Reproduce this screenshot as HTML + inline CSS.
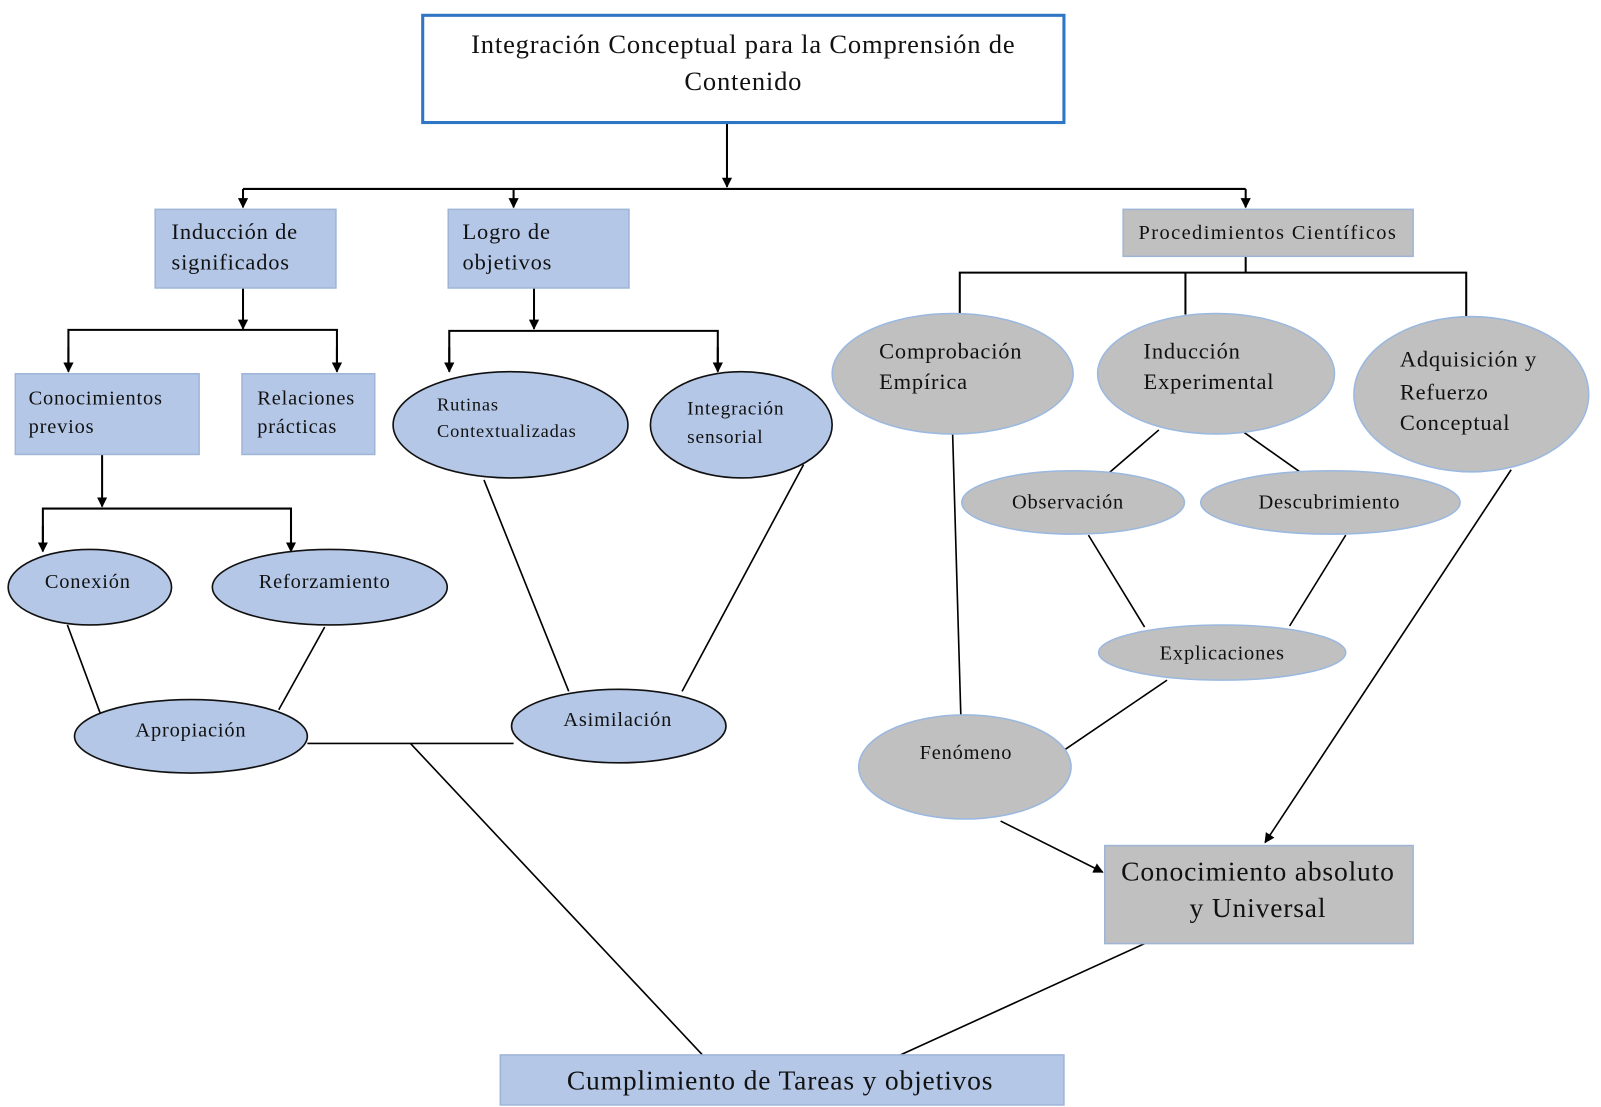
<!DOCTYPE html>
<html><head><meta charset="utf-8"><style>html,body{margin:0;padding:0;background:#fff}svg{display:block}text{letter-spacing:0.8px}</style></head><body>
<svg width="1601" height="1107" viewBox="0 0 1568 1084" preserveAspectRatio="none" xmlns="http://www.w3.org/2000/svg" font-family="Liberation Serif, serif" fill="#111">
<defs><marker id="a" markerWidth="10" markerHeight="10" refX="9" refY="5" orient="auto" markerUnits="userSpaceOnUse"><path d="M0,0 L10,5 L0,10 z" fill="#000"/></marker></defs>
<g stroke="#000" stroke-width="2" fill="none">
<line x1="712" y1="117" x2="712" y2="183" marker-end="url(#a)"/>
<line x1="238" y1="185" x2="1220" y2="185"/>
<line x1="238" y1="185" x2="238" y2="203" marker-end="url(#a)"/>
<line x1="503" y1="185" x2="503" y2="203" marker-end="url(#a)"/>
<line x1="1220" y1="185" x2="1220" y2="203" marker-end="url(#a)"/>
<line x1="238" y1="282" x2="238" y2="322" marker-end="url(#a)"/>
<polyline points="67,362 67,323 330,323 330,362"/>
<line x1="67" y1="340" x2="67" y2="364" marker-end="url(#a)"/><line x1="330" y1="340" x2="330" y2="364" marker-end="url(#a)"/>
<line x1="100" y1="445" x2="100" y2="496" marker-end="url(#a)"/>
<polyline points="42,538 42,498 285,498 285,538"/>
<line x1="42" y1="515" x2="42" y2="540" marker-end="url(#a)"/><line x1="285" y1="515" x2="285" y2="540" marker-end="url(#a)"/>
<line x1="523" y1="282" x2="523" y2="322" marker-end="url(#a)"/>
<polyline points="440,362 440,324 703,324 703,362"/>
<line x1="440" y1="340" x2="440" y2="364" marker-end="url(#a)"/><line x1="703" y1="340" x2="703" y2="364" marker-end="url(#a)"/>
<line x1="1220" y1="251" x2="1220" y2="267"/>
<polyline points="940,308 940,267 1436,267 1436,310"/>
<line x1="1161" y1="267" x2="1161" y2="308"/>
</g>
<g stroke="#000" stroke-width="1.6">
<line x1="66" y1="612" x2="98" y2="698"/><line x1="318" y1="614" x2="273" y2="695"/>
<line x1="301" y1="728" x2="503" y2="728"/><line x1="402" y1="728" x2="688" y2="1033"/>
<line x1="474" y1="470" x2="557" y2="677"/><line x1="787" y1="455" x2="668" y2="677"/>
<line x1="1135" y1="421" x2="1085" y2="464"/><line x1="1215" y1="421" x2="1273" y2="462"/>
<line x1="1066" y1="524" x2="1121" y2="614"/><line x1="1318" y1="524" x2="1263" y2="613"/>
<line x1="933" y1="425" x2="941" y2="700"/><line x1="1143" y1="666" x2="1043" y2="734"/>
<line x1="980" y1="804" x2="1080" y2="854" marker-end="url(#a)"/>
<line x1="1480" y1="460" x2="1239" y2="825" marker-end="url(#a)"/>
<line x1="1121" y1="924" x2="882" y2="1033"/>
</g>
<rect x="414" y="15" width="628" height="105" fill="#fff" stroke="#2e75c6" stroke-width="3"/>
<g fill="#b4c7e7" stroke="#9fb5d8" stroke-width="1.5">
<rect x="152" y="205" width="177" height="77"/><rect x="439" y="205" width="177" height="77"/>
<rect x="15" y="366" width="180" height="79"/><rect x="237" y="366" width="130" height="79"/>
<rect x="490" y="1033" width="552" height="49"/>
</g>
<g fill="#c0c0c0" stroke="#9fb5d8" stroke-width="1.5">
<rect x="1100" y="205" width="284" height="46"/><rect x="1082" y="828" width="302" height="96"/>
</g>
<g fill="#b4c7e7" stroke="#111" stroke-width="1.6">
<ellipse cx="88" cy="575" rx="80" ry="37"/><ellipse cx="323" cy="575" rx="115" ry="37"/>
<ellipse cx="187" cy="721" rx="114" ry="36"/><ellipse cx="606" cy="711" rx="105" ry="36"/>
<ellipse cx="500" cy="416" rx="115" ry="52"/><ellipse cx="726" cy="416" rx="89" ry="52"/>
</g>
<g fill="#c0c0c0" stroke="#9ab8e0" stroke-width="1.5">
<ellipse cx="933" cy="366" rx="118" ry="59"/><ellipse cx="1191" cy="366" rx="116" ry="59"/>
<ellipse cx="1441" cy="386" rx="115" ry="76"/>
<ellipse cx="1051" cy="492" rx="109" ry="31"/><ellipse cx="1303" cy="492" rx="127" ry="31"/>
<ellipse cx="1197" cy="639" rx="121" ry="27"/><ellipse cx="945" cy="751" rx="104" ry="51"/>
</g>
<g font-size="26" text-anchor="middle" style="letter-spacing:1.2px"><text x="728" y="52">Integración Conceptual para la Comprensión de</text><text x="728" y="88">Contenido</text></g>
<g font-size="22">
<text x="168" y="234">Inducción de</text><text x="168" y="264">significados</text>
<text x="453" y="234">Logro de</text><text x="453" y="264">objetivos</text>
<text x="28" y="396" font-size="20">Conocimientos</text><text x="28" y="424" font-size="20">previos</text>
<text x="252" y="396" font-size="20">Relaciones</text><text x="252" y="424" font-size="20">prácticas</text>
<text x="1115" y="234" font-size="20" style="letter-spacing:1.4px">Procedimientos Científicos</text>
<text x="861" y="351">Comprobación</text><text x="861" y="381">Empírica</text>
<text x="1120" y="351">Inducción</text><text x="1120" y="381">Experimental</text>
<text x="1371" y="359">Adquisición y</text><text x="1371" y="391">Refuerzo</text><text x="1371" y="421">Conceptual</text>
</g>
<g font-size="19">
<text x="428" y="402" font-size="18">Rutinas</text><text x="428" y="428" font-size="18">Contextualizadas</text>
<text x="673" y="406">Integración</text><text x="673" y="434">sensorial</text>
</g>
<g font-size="20" text-anchor="middle">
<text x="86" y="576">Conexión</text><text x="318" y="576">Reforzamiento</text>
<text x="187" y="721">Apropiación</text><text x="605" y="711">Asimilación</text>
<text x="1046" y="498">Observación</text><text x="1302" y="498">Descubrimiento</text>
<text x="1197" y="646">Explicaciones</text><text x="946" y="743">Fenómeno</text>
</g>
<g font-size="27" text-anchor="middle"><text x="1232" y="862">Conocimiento absoluto</text><text x="1232" y="898">y Universal</text>
<text x="764" y="1067">Cumplimiento de Tareas y objetivos</text></g>
</svg>
</body></html>
